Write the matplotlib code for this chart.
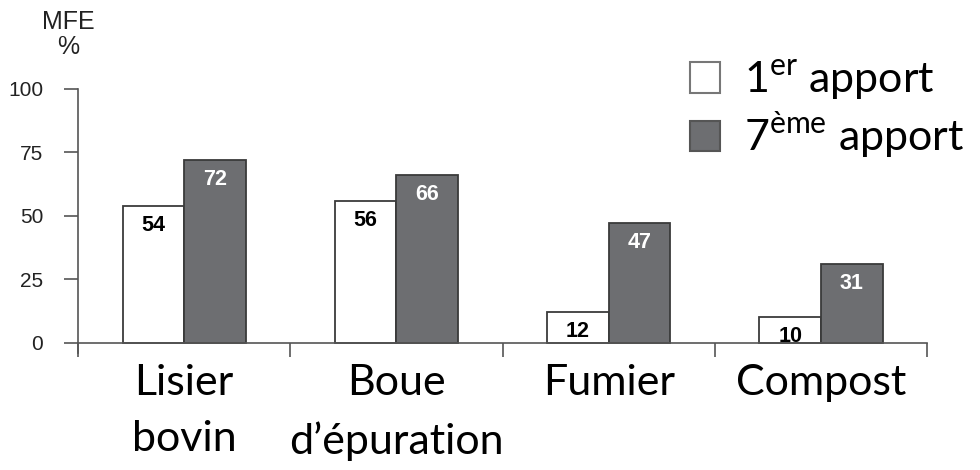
from matplotlib import pyplot as plt
from matplotlib.patches import Patch
import numpy as np

categories = ["Lisier\nbovin", "Boue\nd\u2019\u00e9puration", "Fumier", "Compost"]
first = [54, 56, 12, 10]
seventh = [72, 66, 47, 31]
series_labels = ["1$^{\\mathregular{er}}$ apport", "7$^{\\mathregular{\u00e8me}}$ apport"]
yticks = [0, 25, 50, 75, 100]

GREY = "#6d6e71"
EDGE = "#3a3a3a"
AXC = "#555555"
BIG = "Lato"
SMALL = "Liberation Sans"

fig = plt.figure(figsize=(9.8, 4.7), dpi=100)
ax = fig.add_axes([0.0796, 0.249, 0.8664, 0.562])

x = np.arange(len(categories))
w = 0.29
b1 = ax.bar(x - w / 2, first, w, color="white", edgecolor=EDGE, linewidth=1.3)
b2 = ax.bar(x + w / 2, seventh, w, color=GREY, edgecolor=EDGE, linewidth=1.3)

for bars, vals, col in [(b1, first, "black"), (b2, seventh, "white")]:
    for r, v in zip(bars, vals):
        ax.annotate(str(v), (r.get_x() + r.get_width() / 2, v), xytext=(0, -14),
                    textcoords="offset points", ha="center", va="center",
                    fontsize=15.5, fontweight="bold", color=col, family=SMALL)

ax.set_xlim(-0.5, len(categories) - 0.5)
ax.set_ylim(-4, 100)
ax.spines["top"].set_visible(False)
ax.spines["right"].set_visible(False)
ax.spines["bottom"].set_position(("data", 0))
for s in ["left", "bottom"]:
    ax.spines[s].set_color(AXC)
    ax.spines[s].set_linewidth(1.2)

ax.set_yticks(yticks)
ax.set_yticklabels([str(t) for t in yticks], family=SMALL, fontsize=15, color="#222222")
ax.tick_params(axis="y", length=10, width=1.2, color=AXC, pad=15)

ax.set_xticks(np.arange(-0.5, len(categories)))
ax.set_xticklabels([])
ax.tick_params(axis="x", which="major", length=10, width=1.2, color=AXC, direction="out")
ax.set_xticks(x, minor=True)
ax.set_xticklabels(categories, minor=True, family=BIG, fontsize=31, linespacing=1.6)
ax.tick_params(axis="x", which="minor", length=0, pad=15)

fig.text(68 / 980, 1 - 10 / 470, "MFE\n%", ha="center", va="top", family=SMALL,
         fontsize=18, color="#222222", linespacing=1.05)

handles = [Patch(facecolor="white", edgecolor="#777777", linewidth=1.5),
           Patch(facecolor=GREY, edgecolor="#555555", linewidth=1.5)]
fig.legend(handles, series_labels, loc="upper right", bbox_to_anchor=(1.024, 0.958),
           frameon=False, prop={"family": BIG, "size": 31}, handlelength=0.7,
           handleheight=0.7, handletextpad=0.55, labelspacing=0.2)

fig.savefig("out.png", dpi=100)
